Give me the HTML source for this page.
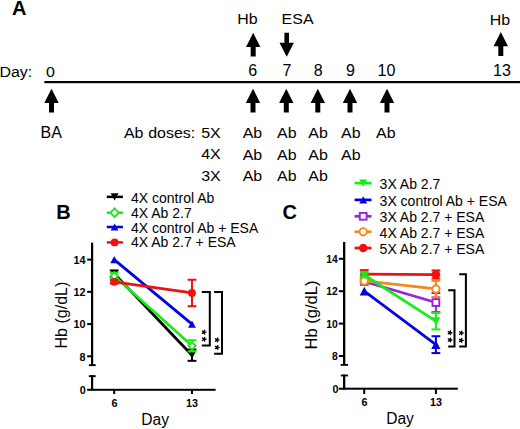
<!DOCTYPE html>
<html><head><meta charset="utf-8">
<style>
html,body{margin:0;padding:0;background:#fff;width:520px;height:429px;overflow:hidden;}
svg{display:block;font-family:"Liberation Sans",sans-serif;}
.t{font-size:15.6px;fill:#000;}
.a{font-size:15px;fill:#000;}
.l{font-size:14px;fill:#000;}
.tk{font-size:10.8px;font-weight:bold;fill:#000;}
.p{font-size:20px;font-weight:bold;fill:#000;}
</style></head>
<body>
<svg width="520" height="429" viewBox="0 0 520 429">
<defs>
<path id="up" d="M0,0 L7.2,14.2 L2.5,14.2 L2.5,23.8 L-2.5,23.8 L-2.5,14.2 L-7.2,14.2 Z"/>
<path id="dn" d="M0,24 L7.2,10 L2.3,10 L2.3,0 L-2.3,0 L-2.3,10 L-7.2,10 Z"/>
</defs>
<text class="p" x="11.9" y="14.6">A</text>
<text class="a" text-anchor="middle" transform="translate(247.5,23.9) scale(1.065,1)">Hb</text>
<text class="a" text-anchor="middle" transform="translate(297.55,24.0) scale(1.065,1)">ESA</text>
<text class="a" text-anchor="middle" transform="translate(499.95,24.9) scale(1.065,1)">Hb</text>
<text class="a" text-anchor="start" transform="translate(-0.6,77.0) scale(1.065,1)">Day:</text>
<text class="a" text-anchor="middle" transform="translate(50.45,77.1) scale(1.065,1)">0</text>
<text class="a" text-anchor="middle" transform="translate(252.8,75.8) scale(0.985,1)" style="font-size:16.3px">6</text>
<text class="a" text-anchor="middle" transform="translate(287.05,75.8) scale(0.985,1)" style="font-size:16.3px">7</text>
<text class="a" text-anchor="middle" transform="translate(318.3,75.8) scale(0.985,1)" style="font-size:16.3px">8</text>
<text class="a" text-anchor="middle" transform="translate(350.5,75.8) scale(0.985,1)" style="font-size:16.3px">9</text>
<text class="a" text-anchor="middle" transform="translate(386.4,75.8) scale(0.985,1)" style="font-size:16.3px">10</text>
<text class="a" text-anchor="middle" transform="translate(501.9,75.8) scale(0.985,1)" style="font-size:16.3px">13</text>
<text class="a" text-anchor="middle" transform="translate(51.25,138.4) scale(0.985,1)" style="font-size:16.3px">BA</text>
<text class="a" text-anchor="middle" transform="translate(133.7,137.8) scale(1.065,1)">Ab</text>
<text class="a" text-anchor="start" transform="translate(148.2,137.8) scale(1.065,1)">doses:</text>
<text class="a" text-anchor="end" transform="translate(220.7,137.8) scale(1.065,1)">5X</text>
<text class="a" text-anchor="end" transform="translate(220.7,159.4) scale(1.065,1)">4X</text>
<text class="a" text-anchor="end" transform="translate(220.7,181.1) scale(1.065,1)">3X</text>
<text class="a" text-anchor="middle" transform="translate(252.45,137.8) scale(1.065,1)">Ab</text>
<text class="a" text-anchor="middle" transform="translate(286.85,137.8) scale(1.065,1)">Ab</text>
<text class="a" text-anchor="middle" transform="translate(318.1,137.8) scale(1.065,1)">Ab</text>
<text class="a" text-anchor="middle" transform="translate(350.85,137.8) scale(1.065,1)">Ab</text>
<text class="a" text-anchor="middle" transform="translate(385.85,137.8) scale(1.065,1)">Ab</text>
<text class="a" text-anchor="middle" transform="translate(252.45,159.5) scale(1.065,1)">Ab</text>
<text class="a" text-anchor="middle" transform="translate(286.85,159.5) scale(1.065,1)">Ab</text>
<text class="a" text-anchor="middle" transform="translate(318.1,159.5) scale(1.065,1)">Ab</text>
<text class="a" text-anchor="middle" transform="translate(350.85,159.5) scale(1.065,1)">Ab</text>
<text class="a" text-anchor="middle" transform="translate(252.45,181.0) scale(1.065,1)">Ab</text>
<text class="a" text-anchor="middle" transform="translate(286.85,181.0) scale(1.065,1)">Ab</text>
<text class="a" text-anchor="middle" transform="translate(318.1,181.0) scale(1.065,1)">Ab</text>
<use href="#up" x="253.2" y="32.8"/>
<use href="#dn" x="286.7" y="32.8"/>
<use href="#up" x="500.8" y="32.1"/>
<rect x="44.4" y="81" width="476" height="2.2" fill="#000"/>
<use href="#up" x="51.5" y="88.7"/>
<use href="#up" x="253.0" y="88.7"/>
<use href="#up" x="286.3" y="88.7"/>
<use href="#up" x="317.8" y="88.7"/>
<use href="#up" x="350.0" y="88.7"/>
<use href="#up" x="387.0" y="88.7"/>
<text class="p" x="56.2" y="219.3">B</text>
<line x1="106.8" y1="196.85" x2="122.9" y2="196.85" stroke="#000" stroke-width="2.5"/>
<path d="M110.69999999999999,193.25 L118.5,193.25 L114.6,200.45 Z" fill="#000"/>
<text class="l" text-anchor="start" x="131.0" y="203.39999999999998">4X control Ab</text>
<line x1="106.8" y1="212.7" x2="122.9" y2="212.7" stroke="#18ec18" stroke-width="2.5"/>
<path d="M114.6,208.32999999999998 L118.74,212.7 L114.6,217.07 L110.46,212.7 Z" fill="#fff" stroke="#18ec18" stroke-width="1.9"/>
<text class="l" text-anchor="start" x="131.0" y="218.1">4X Ab 2.7</text>
<line x1="106.8" y1="227.0" x2="122.9" y2="227.0" stroke="#0000e0" stroke-width="2.5"/>
<path d="M114.6,223.4 L118.5,230.6 L110.69999999999999,230.6 Z" fill="#0000e0"/>
<text class="l" text-anchor="start" x="131.0" y="232.6">4X control Ab + ESA</text>
<line x1="106.8" y1="242.4" x2="122.9" y2="242.4" stroke="#f01010" stroke-width="2.5"/>
<circle cx="114.6" cy="242.4" r="3.9" fill="#f01010"/>
<text class="l" text-anchor="start" x="131.0" y="247.2">4X Ab 2.7 + ESA</text>
<g fill="#000">
<rect x="91" y="242.7" width="2.2" height="123"/>
<rect x="88.9" y="364.2" width="6.8" height="1.9"/>
<rect x="88.9" y="375.2" width="6.8" height="1.9"/>
<rect x="91" y="375.2" width="2.2" height="15"/>
<rect x="87.1" y="388.8" width="128.5" height="2"/>
<rect x="87.2" y="258.60" width="4" height="2"/>
<rect x="87.2" y="290.84" width="4" height="2"/>
<rect x="87.2" y="323.08" width="4" height="2"/>
<rect x="87.2" y="355.32" width="4" height="2"/>
<rect x="113.2" y="389" width="2" height="5"/>
<rect x="191" y="389" width="2" height="5"/>
</g>
<text class="tk" text-anchor="end" x="85.6" y="263.90">14</text>
<text class="tk" text-anchor="end" x="85.6" y="296.14">12</text>
<text class="tk" text-anchor="end" x="85.6" y="328.38">10</text>
<text class="tk" text-anchor="end" x="85.6" y="360.62">8</text>
<text class="tk" text-anchor="end" x="85.8" y="394.0">0</text>
<text class="tk" text-anchor="middle" x="114.5" y="406.8">6</text>
<text class="tk" text-anchor="middle" x="191.9" y="406.9">13</text>
<text class="t" text-anchor="middle" x="155.1" y="425.3">Day</text>
<text class="t" style="font-size:16px" text-anchor="middle" transform="translate(66.6,315.1) rotate(-90)">Hb (g/dL)</text>
<line x1="114.2" y1="273.62" x2="192.0" y2="355.19" stroke="#000" stroke-width="2.75"/>
<line x1="114.2" y1="270.40" x2="114.2" y2="276.85" stroke="#000" stroke-width="2"/><line x1="109.8" y1="270.40" x2="118.60000000000001" y2="270.40" stroke="#000" stroke-width="2"/><line x1="109.8" y1="276.85" x2="118.60000000000001" y2="276.85" stroke="#000" stroke-width="2"/>
<path d="M110.3,270.02 L118.10000000000001,270.02 L114.2,277.22 Z" fill="#000"/>
<line x1="192.0" y1="349.55" x2="192.0" y2="360.83" stroke="#000" stroke-width="2"/><line x1="187.6" y1="349.55" x2="196.4" y2="349.55" stroke="#000" stroke-width="2"/><line x1="187.6" y1="360.83" x2="196.4" y2="360.83" stroke="#000" stroke-width="2"/>
<path d="M188.1,351.59 L195.9,351.59 L192.0,358.79 Z" fill="#000"/>
<line x1="114.2" y1="276.04" x2="192.0" y2="345.84" stroke="#18ec18" stroke-width="2.75"/>
<line x1="114.2" y1="272.82" x2="114.2" y2="279.27" stroke="#18ec18" stroke-width="2"/><line x1="109.8" y1="272.82" x2="118.60000000000001" y2="272.82" stroke="#18ec18" stroke-width="2"/><line x1="109.8" y1="279.27" x2="118.60000000000001" y2="279.27" stroke="#18ec18" stroke-width="2"/>
<path d="M114.2,272.24 L117.8,276.04 L114.2,279.84000000000003 L110.60000000000001,276.04 Z" fill="#fff" stroke="#18ec18" stroke-width="1.9"/>
<line x1="192.0" y1="340.20" x2="192.0" y2="351.48" stroke="#18ec18" stroke-width="2"/><line x1="187.6" y1="340.20" x2="196.4" y2="340.20" stroke="#18ec18" stroke-width="2"/><line x1="187.6" y1="351.48" x2="196.4" y2="351.48" stroke="#18ec18" stroke-width="2"/>
<path d="M192.0,342.03999999999996 L195.6,345.84 L192.0,349.64 L188.4,345.84 Z" fill="#fff" stroke="#18ec18" stroke-width="1.9"/>
<line x1="114.2" y1="259.60" x2="192.0" y2="324.08" stroke="#0000e0" stroke-width="2.75"/>
<path d="M114.2,256.0 L118.10000000000001,263.20000000000005 L110.3,263.20000000000005 Z" fill="#0000e0"/>
<path d="M192.0,320.47999999999996 L195.9,327.68 L188.1,327.68 Z" fill="#0000e0"/>
<line x1="114.2" y1="281.85" x2="192.0" y2="292.97" stroke="#f01010" stroke-width="2.75"/>
<line x1="114.2" y1="280.23" x2="114.2" y2="283.46" stroke="#f01010" stroke-width="2"/><line x1="109.8" y1="280.23" x2="118.60000000000001" y2="280.23" stroke="#f01010" stroke-width="2"/><line x1="109.8" y1="283.46" x2="118.60000000000001" y2="283.46" stroke="#f01010" stroke-width="2"/>
<circle cx="114.2" cy="281.85" r="3.9" fill="#f01010"/>
<line x1="192.0" y1="279.75" x2="192.0" y2="306.19" stroke="#f01010" stroke-width="2"/><line x1="187.6" y1="279.75" x2="196.4" y2="279.75" stroke="#f01010" stroke-width="2"/><line x1="187.6" y1="306.19" x2="196.4" y2="306.19" stroke="#f01010" stroke-width="2"/>
<circle cx="192.0" cy="292.97" r="3.9" fill="#f01010"/>
<path d="M201.8,291.9 H209.8 V345.6 H201.8" fill="none" stroke="#000" stroke-width="2"/>
<path d="M214.1,291.9 H222.0 V353.8 H214.1" fill="none" stroke="#000" stroke-width="2"/>
<path d="M204.05,332.15L206.05,332.15M204.05,332.15L204.67,334.05M204.05,332.15L204.67,330.25M204.05,332.15L202.43,333.33M204.05,332.15L202.43,330.97M204.05,339.25L206.05,339.25M204.05,339.25L204.67,341.15M204.05,339.25L204.67,337.35M204.05,339.25L202.43,340.43M204.05,339.25L202.43,338.07" stroke="#000" stroke-width="1.35" stroke-linecap="round" fill="none"/>
<path d="M217.10,339.90L219.10,339.90M217.10,339.90L217.72,341.80M217.10,339.90L217.72,338.00M217.10,339.90L215.48,341.08M217.10,339.90L215.48,338.72M217.10,347.45L219.10,347.45M217.10,347.45L217.72,349.35M217.10,347.45L217.72,345.55M217.10,347.45L215.48,348.63M217.10,347.45L215.48,346.27" stroke="#000" stroke-width="1.35" stroke-linecap="round" fill="none"/>
<text class="p" x="282.6" y="219.3">C</text>
<line x1="354.6" y1="183.1" x2="371.5" y2="183.1" stroke="#18ec18" stroke-width="2.7"/>
<path d="M359.3,179.5 L367.09999999999997,179.5 L363.2,186.7 Z" fill="#18ec18"/>
<text class="l" text-anchor="start" x="379.6" y="189.4">3X Ab 2.7</text>
<line x1="354.6" y1="199.9" x2="371.5" y2="199.9" stroke="#0000e0" stroke-width="2.7"/>
<path d="M363.2,196.3 L367.09999999999997,203.5 L359.3,203.5 Z" fill="#0000e0"/>
<text class="l" text-anchor="start" x="379.6" y="205.6">3X control Ab + ESA</text>
<line x1="354.6" y1="216.3" x2="371.5" y2="216.3" stroke="#9a22dd" stroke-width="2.7"/>
<rect x="359.8" y="212.9" width="6.8" height="6.8" fill="#fff" stroke="#9a22dd" stroke-width="1.9"/>
<text class="l" text-anchor="start" x="379.6" y="221.8">3X Ab 2.7 + ESA</text>
<line x1="354.6" y1="231.8" x2="371.5" y2="231.8" stroke="#f08a1e" stroke-width="2.7"/>
<circle cx="363.2" cy="231.8" r="3.65" fill="#fff" stroke="#f08a1e" stroke-width="1.9"/>
<text class="l" text-anchor="start" x="379.6" y="238.0">4X Ab 2.7 + ESA</text>
<line x1="354.6" y1="248.0" x2="371.5" y2="248.0" stroke="#f01010" stroke-width="2.7"/>
<circle cx="363.2" cy="248.0" r="4.29" fill="#f01010"/>
<text class="l" text-anchor="start" x="379.6" y="254.1">5X Ab 2.7 + ESA</text>
<g fill="#000">
<rect x="343" y="242" width="2.3" height="123"/>
<rect x="340.6" y="364" width="7.4" height="1.8"/>
<rect x="340.8" y="374.6" width="7.3" height="1.8"/>
<rect x="343" y="374.6" width="2.3" height="15"/>
<rect x="338.8" y="387.7" width="119" height="2"/>
<rect x="338.8" y="257.80" width="4.3" height="2"/>
<rect x="338.8" y="290.20" width="4.3" height="2"/>
<rect x="338.8" y="322.60" width="4.3" height="2"/>
<rect x="338.8" y="355.00" width="4.3" height="2"/>
<rect x="363.2" y="388" width="2" height="6"/>
<rect x="434.9" y="388" width="2" height="6"/>
</g>
<text class="tk" text-anchor="end" x="337.7" y="262.70" style="font-size:10.3px">14</text>
<text class="tk" text-anchor="end" x="337.7" y="295.10" style="font-size:10.3px">12</text>
<text class="tk" text-anchor="end" x="337.7" y="327.50" style="font-size:10.3px">10</text>
<text class="tk" text-anchor="end" x="337.7" y="359.90" style="font-size:10.3px">8</text>
<text class="tk" text-anchor="end" x="338.4" y="393.2">0</text>
<text class="tk" text-anchor="middle" x="364.4" y="406.3">6</text>
<text class="tk" text-anchor="middle" x="436.0" y="406.0">13</text>
<text class="t" text-anchor="middle" x="400.0" y="423.6">Day</text>
<text class="t" style="font-size:16.6px" text-anchor="middle" transform="translate(317.1,315.0) rotate(-90)">Hb (g/dL)</text>
<line x1="364.3" y1="291.20" x2="435.9" y2="344.66" stroke="#0000e0" stroke-width="2.75"/>
<path d="M364.3,286.84999999999997 L368.90000000000003,295.55 L359.7,295.55 Z" fill="#0000e0"/>
<line x1="435.9" y1="336.24" x2="435.9" y2="353.08" stroke="#0000e0" stroke-width="2"/><line x1="431.5" y1="336.24" x2="440.29999999999995" y2="336.24" stroke="#0000e0" stroke-width="2"/><line x1="431.5" y1="353.08" x2="440.29999999999995" y2="353.08" stroke="#0000e0" stroke-width="2"/>
<path d="M435.9,340.31 L440.5,349.01000000000005 L431.29999999999995,349.01000000000005 Z" fill="#0000e0"/>
<line x1="364.3" y1="281.48" x2="435.9" y2="302.54" stroke="#9a22dd" stroke-width="2.75"/>
<line x1="364.3" y1="279.86" x2="364.3" y2="283.10" stroke="#9a22dd" stroke-width="2"/><line x1="359.90000000000003" y1="279.86" x2="368.7" y2="279.86" stroke="#9a22dd" stroke-width="2"/><line x1="359.90000000000003" y1="283.10" x2="368.7" y2="283.10" stroke="#9a22dd" stroke-width="2"/>
<rect x="360.90000000000003" y="278.08000000000004" width="6.8" height="6.8" fill="#fff" stroke="#9a22dd" stroke-width="1.9"/>
<line x1="435.9" y1="292.98" x2="435.9" y2="312.10" stroke="#9a22dd" stroke-width="2"/><line x1="431.5" y1="292.98" x2="440.29999999999995" y2="292.98" stroke="#9a22dd" stroke-width="2"/><line x1="431.5" y1="312.10" x2="440.29999999999995" y2="312.10" stroke="#9a22dd" stroke-width="2"/>
<rect x="432.5" y="299.14000000000004" width="6.8" height="6.8" fill="#fff" stroke="#9a22dd" stroke-width="1.9"/>
<line x1="364.3" y1="274.19" x2="435.9" y2="274.51" stroke="#f01010" stroke-width="2.75"/>
<line x1="364.3" y1="270.14" x2="364.3" y2="278.24" stroke="#f01010" stroke-width="2"/><line x1="359.90000000000003" y1="270.14" x2="368.7" y2="270.14" stroke="#f01010" stroke-width="2"/><line x1="359.90000000000003" y1="278.24" x2="368.7" y2="278.24" stroke="#f01010" stroke-width="2"/>
<circle cx="364.3" cy="274.19" r="4.368" fill="#f01010"/>
<line x1="435.9" y1="270.46" x2="435.9" y2="278.56" stroke="#f01010" stroke-width="2"/><line x1="431.5" y1="270.46" x2="440.29999999999995" y2="270.46" stroke="#f01010" stroke-width="2"/><line x1="431.5" y1="278.56" x2="440.29999999999995" y2="278.56" stroke="#f01010" stroke-width="2"/>
<circle cx="435.9" cy="274.51" r="4.368" fill="#f01010"/>
<line x1="364.3" y1="280.99" x2="435.9" y2="288.93" stroke="#f08a1e" stroke-width="2.75"/>
<line x1="364.3" y1="278.56" x2="364.3" y2="283.42" stroke="#f08a1e" stroke-width="2"/><line x1="359.90000000000003" y1="278.56" x2="368.7" y2="278.56" stroke="#f08a1e" stroke-width="2"/><line x1="359.90000000000003" y1="283.42" x2="368.7" y2="283.42" stroke="#f08a1e" stroke-width="2"/>
<circle cx="364.3" cy="280.99" r="3.65" fill="#fff" stroke="#f08a1e" stroke-width="1.9"/>
<line x1="435.9" y1="280.83" x2="435.9" y2="297.03" stroke="#f08a1e" stroke-width="2"/><line x1="431.5" y1="280.83" x2="440.29999999999995" y2="280.83" stroke="#f08a1e" stroke-width="2"/><line x1="431.5" y1="297.03" x2="440.29999999999995" y2="297.03" stroke="#f08a1e" stroke-width="2"/>
<circle cx="435.9" cy="288.93" r="3.65" fill="#fff" stroke="#f08a1e" stroke-width="1.9"/>
<line x1="364.3" y1="275.00" x2="435.9" y2="321.17" stroke="#18ec18" stroke-width="2.75"/>
<line x1="364.3" y1="273.38" x2="364.3" y2="276.62" stroke="#18ec18" stroke-width="2"/><line x1="359.90000000000003" y1="273.38" x2="368.7" y2="273.38" stroke="#18ec18" stroke-width="2"/><line x1="359.90000000000003" y1="276.62" x2="368.7" y2="276.62" stroke="#18ec18" stroke-width="2"/>
<path d="M359.932,270.968 L368.668,270.968 L364.3,279.032 Z" fill="#18ec18"/>
<line x1="435.9" y1="312.91" x2="435.9" y2="329.43" stroke="#18ec18" stroke-width="2"/><line x1="431.5" y1="312.91" x2="440.29999999999995" y2="312.91" stroke="#18ec18" stroke-width="2"/><line x1="431.5" y1="329.43" x2="440.29999999999995" y2="329.43" stroke="#18ec18" stroke-width="2"/>
<path d="M431.532,317.13800000000003 L440.268,317.13800000000003 L435.9,325.202 Z" fill="#18ec18"/>
<path d="M448.2,290.3 H454.5 V346.6 H448.2" fill="none" stroke="#000" stroke-width="2"/>
<path d="M459.2,274.2 H465.9 V346.6 H459.2" fill="none" stroke="#000" stroke-width="2"/>
<path d="M449.90,332.70L451.90,332.70M449.90,332.70L450.52,334.60M449.90,332.70L450.52,330.80M449.90,332.70L448.28,333.88M449.90,332.70L448.28,331.52M449.90,340.00L451.90,340.00M449.90,340.00L450.52,341.90M449.90,340.00L450.52,338.10M449.90,340.00L448.28,341.18M449.90,340.00L448.28,338.82" stroke="#000" stroke-width="1.35" stroke-linecap="round" fill="none"/>
<path d="M461.20,333.00L463.20,333.00M461.20,333.00L461.82,334.90M461.20,333.00L461.82,331.10M461.20,333.00L459.58,334.18M461.20,333.00L459.58,331.82M461.20,340.40L463.20,340.40M461.20,340.40L461.82,342.30M461.20,340.40L461.82,338.50M461.20,340.40L459.58,341.58M461.20,340.40L459.58,339.22" stroke="#000" stroke-width="1.35" stroke-linecap="round" fill="none"/>
</svg>
</body></html>
